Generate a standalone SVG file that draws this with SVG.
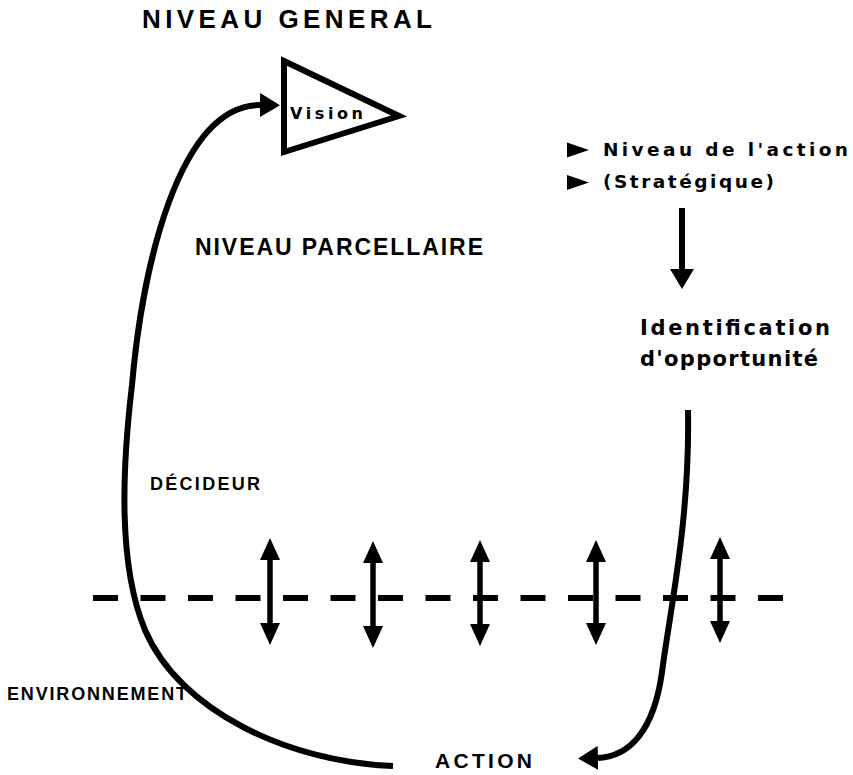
<svg xmlns="http://www.w3.org/2000/svg" width="853" height="775" viewBox="0 0 853 775">
<style>
  text { font-family: "Liberation Sans", Arial, sans-serif; font-weight: bold; fill: #000; }
  text.mixed { font-family: "DejaVu Sans", "Liberation Sans", sans-serif; font-weight: bold; }
  .conn { fill: none; stroke: #000; stroke-width: 6; stroke-linecap: butt; }
  .dbl { fill: none; stroke: #000; stroke-width: 5.5; }
  .bound { fill: none; stroke: #000; stroke-width: 6; stroke-dasharray: 25 22.5; }
  .shape { fill: #fff; stroke: #000; stroke-width: 6; stroke-linejoin: miter; }
  .bullet { fill: #000; }
</style>
<defs>
  <marker id="arr" viewBox="0 0 20 24" refX="1" refY="12" markerWidth="20" markerHeight="24" markerUnits="userSpaceOnUse" orient="auto">
    <path d="M0,0 L20,12 L0,24 Z" fill="#000"/>
  </marker>
  <marker id="dbl" viewBox="0 0 22 20" refX="1" refY="10" markerWidth="22" markerHeight="20" markerUnits="userSpaceOnUse" orient="auto-start-reverse">
    <path d="M0,0 L22,10 L0,20 Z" fill="#000"/>
  </marker>
</defs>
<rect width="853" height="775" fill="#fff"/>

<g id="title">
  <text x="142" y="28" font-size="26" textLength="290" lengthAdjust="spacing">NIVEAU GENERAL</text>
</g>

<g id="vision">
  <polygon class="shape" points="284,61 399,116 284,152"/>
  <text class="mixed" x="290" y="119" font-size="16" textLength="73" lengthAdjust="spacing">Vision</text>
</g>

<g id="niveau-action">
  <polygon class="bullet" points="567,142.5 589,150 567,157.5"/>
  <text class="mixed" x="603" y="156" font-size="18.5" textLength="245" lengthAdjust="spacing">Niveau de l'action</text>
  <polygon class="bullet" points="567,175 589,182.5 567,190"/>
  <text class="mixed" x="603" y="188" font-size="18.5" textLength="171" lengthAdjust="spacing">(Stratégique)</text>
</g>

<g id="identification">
  <text class="mixed" x="640" y="335" font-size="21" textLength="190" lengthAdjust="spacing">Identification</text>
  <text class="mixed" x="640" y="366" font-size="21" textLength="178" lengthAdjust="spacing">d'opportunité</text>
</g>

<g id="niveau-parcellaire">
  <text x="195" y="255" font-size="23" textLength="288" lengthAdjust="spacing">NIVEAU PARCELLAIRE</text>
</g>

<g id="decideur">
  <text x="150" y="490" font-size="18" textLength="110" lengthAdjust="spacing">DÉCIDEUR</text>
</g>

<g id="environnement">
  <text x="7" y="700" font-size="18" textLength="180" lengthAdjust="spacing">ENVIRONNEMENT</text>
</g>

<g id="action">
  <text x="435" y="768" font-size="21" textLength="97" lengthAdjust="spacing">ACTION</text>
</g>

<g id="frontiere">
  <line class="bound" x1="93" y1="598" x2="783" y2="598"/>
</g>

<g id="connectors">
  <path class="conn" marker-end="url(#arr)" d="M393,766 C290,762 180,712 145,630 C118,565 122,470 132,385 C142,270 178,104 261,105"/>
  <path class="conn" marker-end="url(#arr)" d="M688,410 C690,520 670,610 662,672 C654,730 630,757 597,758"/>
  <line class="conn" marker-end="url(#arr)" x1="682" y1="208" x2="682" y2="270"/>
  <line class="dbl" marker-start="url(#dbl)" marker-end="url(#dbl)" x1="270" y1="559" x2="270" y2="624"/>
  <line class="dbl" marker-start="url(#dbl)" marker-end="url(#dbl)" x1="373" y1="562" x2="373" y2="627"/>
  <line class="dbl" marker-start="url(#dbl)" marker-end="url(#dbl)" x1="480" y1="561" x2="480" y2="625"/>
  <line class="dbl" marker-start="url(#dbl)" marker-end="url(#dbl)" x1="596" y1="561" x2="596" y2="624"/>
  <line class="dbl" marker-start="url(#dbl)" marker-end="url(#dbl)" x1="720" y1="558" x2="720" y2="622"/>
</g>
</svg>
